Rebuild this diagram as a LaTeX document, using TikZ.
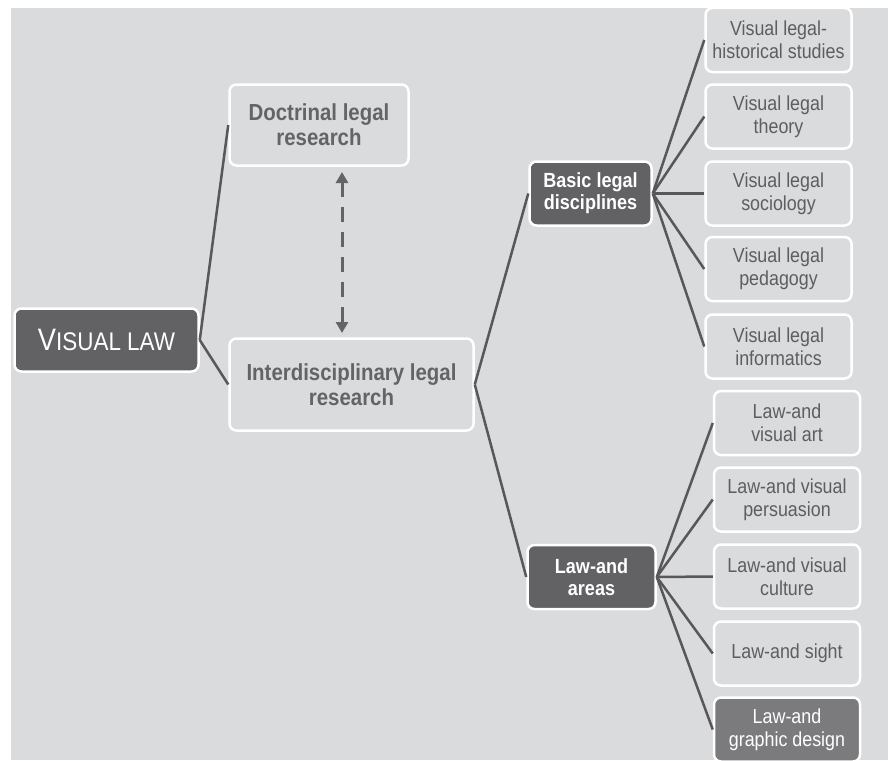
\documentclass[tikz,border=0pt]{standalone}
\usepackage{fontspec}
\setmainfont{Liberation Sans}
\newfontfamily\narrowfont[FakeStretch=0.88]{Liberation Sans}
\usetikzlibrary{arrows.meta}
\definecolor{bg}{HTML}{DADBDD}
\definecolor{dark}{HTML}{626265}
\definecolor{mid}{HTML}{7B7B7E}
\definecolor{txt}{HTML}{5E5E60}
\definecolor{btxt}{HTML}{646466}
\definecolor{ln}{HTML}{58585A}
\tikzset{
  box/.style={draw=white, line width=2.5pt, rounded corners=7pt, inner sep=0pt, align=center},
  leaf/.style={box, text=txt, font=\narrowfont\fontsize{20.3}{23}\selectfont, minimum width=146pt, minimum height=64pt},
  leafdark/.style={leaf, fill=mid, text=white},
  mainbox/.style={box, text=btxt, font=\narrowfont\bfseries\fontsize{23.2}{25}\selectfont},
  subbox/.style={box, fill=dark, text=white, font=\narrowfont\bfseries\fontsize{20.5}{22}\selectfont, minimum height=64pt},
  conn/.style={draw=ln, line width=2.5pt},
  dbl/.style={draw=btxt, line width=3pt, dash pattern=on 15pt off 10pt, {Triangle[width=12pt,length=11pt]}-{Triangle[width=12pt,length=11pt]}}
}
\begin{document}
\begin{tikzpicture}[x=1pt,y=-1pt]
\useasboundingbox (0,0) rectangle (888,760);
\clip (0,0) rectangle (888,760);
\fill[white] (0,0) rectangle (888,760);
\fill[bg] (11,8) rectangle (888,760);

\node[box, fill=dark, text=white, minimum width=184pt, minimum height=63pt] (vlaw) at (106.5,340)
  {\narrowfont{\fontsize{31}{31}\selectfont V}{\fontsize{25.5}{25.5}\selectfont ISUAL LAW}};
\node[mainbox, minimum width=179pt, minimum height=81pt] (doc) at (319,125) {Doctrinal legal\\research};
\node[mainbox, minimum width=244pt, minimum height=92pt] (inter) at (351.5,384.5) {Interdisciplinary legal\\research};
\node[subbox, minimum width=122pt] (basic) at (590.5,193.5) {Basic legal\\disciplines};
\node[subbox, minimum width=128pt] (lawand) at (591.5,577) {Law-and\\areas};

\node[leaf] (hist) at (778.5,40) {Visual legal-\\historical studies};
\node[leaf] (theory) at (778.5,116.5) {Visual legal\\theory};
\node[leaf] (soc) at (778.5,193.5) {Visual legal\\sociology};
\node[leaf] (ped) at (778.5,269) {Visual legal\\pedagogy};
\node[leaf] (inf) at (778.5,346.5) {Visual legal\\informatics};

\node[leaf] (art) at (787,423) {Law-and\\visual art};
\node[leaf] (pers) at (787,499.5) {Law-and visual\\persuasion};
\node[leaf] (cult) at (787,576.5) {Law-and visual\\culture};
\node[leaf] (sight) at (787,653.5) {Law-and sight};
\node[leafdark] (graph) at (787,729.5) {Law-and\\graphic design};

\draw[conn] (vlaw.east) -- (doc.west);
\draw[conn] (vlaw.east) -- (inter.west);
\draw[conn] (inter.east) -- (basic.west);
\draw[conn] (inter.east) -- (lawand.west);
\foreach \n in {hist,theory,soc,ped,inf} \draw[conn] (basic.east) -- (\n.west);
\foreach \n in {art,pers,cult,sight,graph} \draw[conn] (lawand.east) -- (\n.west);

\coordinate (atop) at (342,172);
\coordinate (abot) at (342,333);
\draw[dbl] (atop) -- (abot);
\end{tikzpicture}
\end{document}
